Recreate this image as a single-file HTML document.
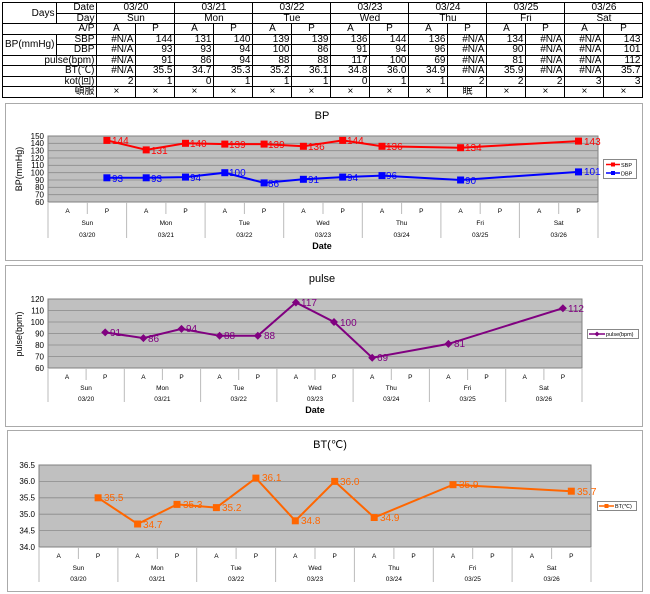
<!DOCTYPE html>
<html><head><meta charset="utf-8"><style>
body{margin:0;background:#fff;width:650px;height:594px;overflow:hidden;position:relative;font-family:"Liberation Sans","Noto Sans CJK JP",sans-serif}
table{position:absolute;left:2px;top:2px;border-collapse:collapse;table-layout:fixed;font-size:10px;line-height:9px}
td{border:1px solid #000;padding:0 2px;height:9.5px;text-align:right;white-space:nowrap;overflow:hidden}
td.c{text-align:center}
svg{position:absolute;left:0;top:0}
</style></head><body>
<table>
<colgroup><col style="width:53px"><col style="width:40px"><col span="14" style="width:39px"></colgroup>
<tr><td rowspan="2" class="c" style="text-align:right">Days</td><td>Date</td><td colspan="2" class="c">03/20</td><td colspan="2" class="c">03/21</td><td colspan="2" class="c">03/22</td><td colspan="2" class="c">03/23</td><td colspan="2" class="c">03/24</td><td colspan="2" class="c">03/25</td><td colspan="2" class="c">03/26</td></tr>
<tr><td>Day</td><td colspan="2" class="c">Sun</td><td colspan="2" class="c">Mon</td><td colspan="2" class="c">Tue</td><td colspan="2" class="c">Wed</td><td colspan="2" class="c">Thu</td><td colspan="2" class="c">Fri</td><td colspan="2" class="c">Sat</td></tr>
<tr><td colspan="2">A/P</td><td class="c">A</td><td class="c">P</td><td class="c">A</td><td class="c">P</td><td class="c">A</td><td class="c">P</td><td class="c">A</td><td class="c">P</td><td class="c">A</td><td class="c">P</td><td class="c">A</td><td class="c">P</td><td class="c">A</td><td class="c">P</td></tr>
<tr><td rowspan="2">BP(mmHg)</td><td>SBP</td><td>#N/A</td><td>144</td><td>131</td><td>140</td><td>139</td><td>139</td><td>136</td><td>144</td><td>136</td><td>#N/A</td><td>134</td><td>#N/A</td><td>#N/A</td><td>143</td></tr>
<tr><td>DBP</td><td>#N/A</td><td>93</td><td>93</td><td>94</td><td>100</td><td>86</td><td>91</td><td>94</td><td>96</td><td>#N/A</td><td>90</td><td>#N/A</td><td>#N/A</td><td>101</td></tr>
<tr><td colspan="2">pulse(bpm)</td><td>#N/A</td><td>91</td><td>86</td><td>94</td><td>88</td><td>88</td><td>117</td><td>100</td><td>69</td><td>#N/A</td><td>81</td><td>#N/A</td><td>#N/A</td><td>112</td></tr>
<tr><td colspan="2">BT(℃)</td><td>#N/A</td><td>35.5</td><td>34.7</td><td>35.3</td><td>35.2</td><td>36.1</td><td>34.8</td><td>36.0</td><td>34.9</td><td>#N/A</td><td>35.9</td><td>#N/A</td><td>#N/A</td><td>35.7</td></tr>
<tr><td colspan="2">kot(回)</td><td>2</td><td>1</td><td>0</td><td>1</td><td>1</td><td>1</td><td>0</td><td>1</td><td>1</td><td>2</td><td>2</td><td>2</td><td>3</td><td>3</td></tr>
<tr><td colspan="2">頓服</td><td class="c">×</td><td class="c">×</td><td class="c">×</td><td class="c">×</td><td class="c">×</td><td class="c">×</td><td class="c">×</td><td class="c">×</td><td class="c">×</td><td class="c">眠</td><td class="c">×</td><td class="c">×</td><td class="c">×</td><td class="c">×</td></tr>
</table>

<svg width="650" height="594" viewBox="0 0 650 594" font-family="Liberation Sans, sans-serif">
<!-- BP chart -->
<rect x="5.5" y="103.5" width="637" height="157" fill="#fff" stroke="#aaa"/>
<text x="322" y="119" font-size="11" text-anchor="middle">BP</text>
<rect x="48" y="136" width="550" height="66" fill="#c0c0c0" stroke="#808080"/>
<g stroke="#8a8a8a" stroke-width="0.8">
<line x1="48" x2="598" y1="194.7" y2="194.7"/><line x1="48" x2="598" y1="187.3" y2="187.3"/><line x1="48" x2="598" y1="180" y2="180"/><line x1="48" x2="598" y1="172.7" y2="172.7"/><line x1="48" x2="598" y1="165.3" y2="165.3"/><line x1="48" x2="598" y1="158" y2="158"/><line x1="48" x2="598" y1="150.7" y2="150.7"/><line x1="48" x2="598" y1="143.3" y2="143.3"/>
</g>
<g font-size="8" text-anchor="end">
<text x="44" y="205">60</text><text x="44" y="197.5">70</text><text x="44" y="190">80</text><text x="44" y="183">90</text><text x="44" y="175.5">100</text><text x="44" y="168">110</text><text x="44" y="161">120</text><text x="44" y="153.5">130</text><text x="44" y="146">140</text><text x="44" y="139">150</text>
</g>
<text transform="translate(22,169) rotate(-90)" font-size="9" text-anchor="middle">BP(mmHg)</text>
<g stroke="#bbb" stroke-width="1">
<line x1="48" x2="48" y1="202" y2="238"/><line x1="126.6" x2="126.6" y1="202" y2="238"/><line x1="205.1" x2="205.1" y1="202" y2="238"/><line x1="283.7" x2="283.7" y1="202" y2="238"/><line x1="362.3" x2="362.3" y1="202" y2="238"/><line x1="440.9" x2="440.9" y1="202" y2="238"/><line x1="519.4" x2="519.4" y1="202" y2="238"/><line x1="598" x2="598" y1="202" y2="238"/>
<line x1="87.3" x2="87.3" y1="202" y2="214"/><line x1="165.9" x2="165.9" y1="202" y2="214"/><line x1="244.4" x2="244.4" y1="202" y2="214"/><line x1="323" x2="323" y1="202" y2="214"/><line x1="401.6" x2="401.6" y1="202" y2="214"/><line x1="480.2" x2="480.2" y1="202" y2="214"/><line x1="558.7" x2="558.7" y1="202" y2="214"/>
</g>
<g font-size="6.5" text-anchor="middle">
<text x="67.6" y="213">A</text><text x="106.9" y="213">P</text><text x="146.2" y="213">A</text><text x="185.5" y="213">P</text><text x="224.8" y="213">A</text><text x="264.1" y="213">P</text><text x="303.4" y="213">A</text><text x="342.7" y="213">P</text><text x="382" y="213">A</text><text x="421.3" y="213">P</text><text x="460.6" y="213">A</text><text x="499.9" y="213">P</text><text x="539.2" y="213">A</text><text x="578.5" y="213">P</text>
<text x="87.3" y="225">Sun</text><text x="165.9" y="225">Mon</text><text x="244.4" y="225">Tue</text><text x="323" y="225">Wed</text><text x="401.6" y="225">Thu</text><text x="480.2" y="225">Fri</text><text x="558.7" y="225">Sat</text>
<text x="87.3" y="237">03/20</text><text x="165.9" y="237">03/21</text><text x="244.4" y="237">03/22</text><text x="323" y="237">03/23</text><text x="401.6" y="237">03/24</text><text x="480.2" y="237">03/25</text><text x="558.7" y="237">03/26</text>
</g>
<text x="322" y="249" font-size="9" font-weight="bold" text-anchor="middle">Date</text>
<polyline fill="none" stroke="#ff0000" stroke-width="2" points="106.9,140.4 146.2,149.9 185.5,143.3 224.8,144.1 264.1,144.1 303.4,146.3 342.7,140.4 382,146.3 460.6,147.7 578.5,141.1"/>
<g fill="#ff0000"><rect x="103.4" y="136.9" width="7" height="7"/><rect x="142.7" y="146.4" width="7" height="7"/><rect x="182" y="139.8" width="7" height="7"/><rect x="221.3" y="140.6" width="7" height="7"/><rect x="260.6" y="140.6" width="7" height="7"/><rect x="299.9" y="142.8" width="7" height="7"/><rect x="339.2" y="136.9" width="7" height="7"/><rect x="378.5" y="142.8" width="7" height="7"/><rect x="457.1" y="144.2" width="7" height="7"/><rect x="575" y="137.6" width="7" height="7"/></g>
<g fill="#ff0000" font-size="10"><text x="112" y="144">144</text><text x="151" y="154">131</text><text x="190" y="147">140</text><text x="229" y="148">139</text><text x="268" y="148">139</text><text x="308" y="150">136</text><text x="347" y="144">144</text><text x="386" y="150">136</text><text x="465" y="151">134</text><text x="584" y="145">143</text></g>
<polyline fill="none" stroke="#0000ff" stroke-width="2" points="106.9,177.8 146.2,177.8 185.5,177.1 224.8,172.7 264.1,182.9 303.4,179.3 342.7,177.1 382,175.6 460.6,180 578.5,171.9"/>
<g fill="#0000ff"><rect x="103.4" y="174.3" width="7" height="7"/><rect x="142.7" y="174.3" width="7" height="7"/><rect x="182" y="173.6" width="7" height="7"/><rect x="221.3" y="169.2" width="7" height="7"/><rect x="260.6" y="179.4" width="7" height="7"/><rect x="299.9" y="175.8" width="7" height="7"/><rect x="339.2" y="173.6" width="7" height="7"/><rect x="378.5" y="172.1" width="7" height="7"/><rect x="457.1" y="176.5" width="7" height="7"/><rect x="575" y="168.4" width="7" height="7"/></g>
<g fill="#0000ff" font-size="10"><text x="112" y="182">93</text><text x="151" y="182">93</text><text x="190" y="181">94</text><text x="229" y="176">100</text><text x="268" y="187">86</text><text x="308" y="183">91</text><text x="347" y="181">94</text><text x="386" y="179">96</text><text x="465" y="184">90</text><text x="584" y="175">101</text></g>
<rect x="603.5" y="159.5" width="33" height="19" fill="#fff" stroke="#888"/>
<line x1="606" x2="620" y1="164.5" y2="164.5" stroke="#f00" stroke-width="1.5"/><rect x="611" y="162.5" width="4" height="4" fill="#f00"/>
<line x1="606" x2="620" y1="173" y2="173" stroke="#00f" stroke-width="1.5"/><rect x="611" y="171" width="4" height="4" fill="#00f"/>
<text x="621" y="167" font-size="5.5">SBP</text><text x="621" y="175.5" font-size="5.5">DBP</text>

<!-- pulse chart -->
<rect x="5.5" y="265.5" width="637" height="161" fill="#fff" stroke="#aaa"/>
<text x="322" y="282" font-size="11" text-anchor="middle">pulse</text>
<rect x="48" y="299" width="534" height="69" fill="#c0c0c0" stroke="#808080"/>
<g stroke="#8a8a8a" stroke-width="0.8">
<line x1="48" x2="582" y1="356.5" y2="356.5"/><line x1="48" x2="582" y1="345" y2="345"/><line x1="48" x2="582" y1="333.5" y2="333.5"/><line x1="48" x2="582" y1="322" y2="322"/><line x1="48" x2="582" y1="310.5" y2="310.5"/>
</g>
<g font-size="8" text-anchor="end">
<text x="44" y="371">60</text><text x="44" y="359.5">70</text><text x="44" y="348">80</text><text x="44" y="336.5">90</text><text x="44" y="325">100</text><text x="44" y="313.5">110</text><text x="44" y="302">120</text>
</g>
<text transform="translate(22,334) rotate(-90)" font-size="9" text-anchor="middle">pulse(bpm)</text>
<g stroke="#bbb">
<line x1="48" x2="48" y1="368" y2="402"/><line x1="124.3" x2="124.3" y1="368" y2="402"/><line x1="200.6" x2="200.6" y1="368" y2="402"/><line x1="276.9" x2="276.9" y1="368" y2="402"/><line x1="353.1" x2="353.1" y1="368" y2="402"/><line x1="429.4" x2="429.4" y1="368" y2="402"/><line x1="505.7" x2="505.7" y1="368" y2="402"/><line x1="582" x2="582" y1="368" y2="402"/>
<line x1="86.1" x2="86.1" y1="368" y2="380"/><line x1="162.4" x2="162.4" y1="368" y2="380"/><line x1="238.7" x2="238.7" y1="368" y2="380"/><line x1="315" x2="315" y1="368" y2="380"/><line x1="391.3" x2="391.3" y1="368" y2="380"/><line x1="467.6" x2="467.6" y1="368" y2="380"/><line x1="543.9" x2="543.9" y1="368" y2="380"/>
</g>
<g font-size="6.5" text-anchor="middle">
<text x="67.1" y="379">A</text><text x="105.2" y="379">P</text><text x="143.4" y="379">A</text><text x="181.5" y="379">P</text><text x="219.6" y="379">A</text><text x="257.8" y="379">P</text><text x="295.9" y="379">A</text><text x="334" y="379">P</text><text x="372.2" y="379">A</text><text x="410.3" y="379">P</text><text x="448.4" y="379">A</text><text x="486.6" y="379">P</text><text x="524.7" y="379">A</text><text x="562.9" y="379">P</text>
<text x="86.1" y="390">Sun</text><text x="162.4" y="390">Mon</text><text x="238.7" y="390">Tue</text><text x="315" y="390">Wed</text><text x="391.3" y="390">Thu</text><text x="467.6" y="390">Fri</text><text x="543.9" y="390">Sat</text>
<text x="86.1" y="401">03/20</text><text x="162.4" y="401">03/21</text><text x="238.7" y="401">03/22</text><text x="315" y="401">03/23</text><text x="391.3" y="401">03/24</text><text x="467.6" y="401">03/25</text><text x="543.9" y="401">03/26</text>
</g>
<text x="315" y="413" font-size="9" font-weight="bold" text-anchor="middle">Date</text>
<polyline fill="none" stroke="#800080" stroke-width="2" points="105.2,332.4 143.4,338.1 181.5,328.9 219.6,335.8 257.8,335.8 295.9,302.5 334,322 372.2,357.7 448.4,343.9 562.9,308.2"/>
<g fill="#800080">
<path d="M105.2 328.4l4 4-4 4-4-4z"/><path d="M143.4 334.1l4 4-4 4-4-4z"/><path d="M181.5 324.9l4 4-4 4-4-4z"/><path d="M219.6 331.8l4 4-4 4-4-4z"/><path d="M257.8 331.8l4 4-4 4-4-4z"/><path d="M295.9 298.5l4 4-4 4-4-4z"/><path d="M334 318l4 4-4 4-4-4z"/><path d="M372.2 353.7l4 4-4 4-4-4z"/><path d="M448.4 339.9l4 4-4 4-4-4z"/><path d="M562.9 304.2l4 4-4 4-4-4z"/>
</g>
<g fill="#800080" font-size="10"><text x="110" y="336">91</text><text x="148" y="342">86</text><text x="186" y="332">94</text><text x="224" y="339">88</text><text x="264" y="339">88</text><text x="301" y="306">117</text><text x="340" y="326">100</text><text x="377" y="361">69</text><text x="454" y="347">81</text><text x="568" y="312">112</text></g>
<rect x="587.5" y="329.5" width="51" height="9" fill="#fff" stroke="#888"/>
<line x1="589" x2="605" y1="334" y2="334" stroke="#800080" stroke-width="1.5"/><path d="M597 331.5l2.5 2.5-2.5 2.5-2.5-2.5z" fill="#800080"/>
<text x="606" y="336" font-size="5.5">pulse(bpm)</text>

<!-- BT chart -->
<rect x="7.5" y="430.5" width="635" height="161" fill="#fff" stroke="#aaa"/>
<text x="330" y="448" font-size="11" text-anchor="middle">BT(℃)</text>
<rect x="39" y="465" width="552" height="82" fill="#c0c0c0" stroke="#808080"/>
<g stroke="#8a8a8a" stroke-width="0.8">
<line x1="39" x2="591" y1="530.6" y2="530.6"/><line x1="39" x2="591" y1="514.2" y2="514.2"/><line x1="39" x2="591" y1="497.8" y2="497.8"/><line x1="39" x2="591" y1="481.4" y2="481.4"/>
</g>
<g font-size="8" text-anchor="end">
<text x="35" y="550">34.0</text><text x="35" y="533.5">34.5</text><text x="35" y="517">35.0</text><text x="35" y="500.5">35.5</text><text x="35" y="484">36.0</text><text x="35" y="468">36.5</text>
</g>
<g stroke="#bbb">
<line x1="39" x2="39" y1="547" y2="582"/><line x1="117.9" x2="117.9" y1="547" y2="582"/><line x1="196.7" x2="196.7" y1="547" y2="582"/><line x1="275.6" x2="275.6" y1="547" y2="582"/><line x1="354.4" x2="354.4" y1="547" y2="582"/><line x1="433.3" x2="433.3" y1="547" y2="582"/><line x1="512.1" x2="512.1" y1="547" y2="582"/><line x1="591" x2="591" y1="547" y2="582"/>
<line x1="78.4" x2="78.4" y1="547" y2="559"/><line x1="157.3" x2="157.3" y1="547" y2="559"/><line x1="236.1" x2="236.1" y1="547" y2="559"/><line x1="315" x2="315" y1="547" y2="559"/><line x1="393.9" x2="393.9" y1="547" y2="559"/><line x1="472.7" x2="472.7" y1="547" y2="559"/><line x1="551.6" x2="551.6" y1="547" y2="559"/>
</g>
<g font-size="6.5" text-anchor="middle">
<text x="58.7" y="558">A</text><text x="98.1" y="558">P</text><text x="137.6" y="558">A</text><text x="177" y="558">P</text><text x="216.4" y="558">A</text><text x="255.9" y="558">P</text><text x="295.3" y="558">A</text><text x="334.7" y="558">P</text><text x="374.2" y="558">A</text><text x="413.6" y="558">P</text><text x="453" y="558">A</text><text x="492.4" y="558">P</text><text x="531.9" y="558">A</text><text x="571.3" y="558">P</text>
<text x="78.4" y="570">Sun</text><text x="157.3" y="570">Mon</text><text x="236.1" y="570">Tue</text><text x="315" y="570">Wed</text><text x="393.9" y="570">Thu</text><text x="472.7" y="570">Fri</text><text x="551.6" y="570">Sat</text>
<text x="78.4" y="581">03/20</text><text x="157.3" y="581">03/21</text><text x="236.1" y="581">03/22</text><text x="315" y="581">03/23</text><text x="393.9" y="581">03/24</text><text x="472.7" y="581">03/25</text><text x="551.6" y="581">03/26</text>
</g>
<polyline fill="none" stroke="#ff6600" stroke-width="2" points="98.1,497.8 137.6,524 177,504.4 216.4,507.6 255.9,478.1 295.3,520.8 334.7,481.4 374.2,517.5 453,484.7 571.3,491.2"/>
<g fill="#ff6600"><rect x="94.6" y="494.3" width="7" height="7"/><rect x="134.1" y="520.5" width="7" height="7"/><rect x="173.5" y="500.9" width="7" height="7"/><rect x="212.9" y="504.1" width="7" height="7"/><rect x="252.4" y="474.6" width="7" height="7"/><rect x="291.8" y="517.3" width="7" height="7"/><rect x="331.2" y="477.9" width="7" height="7"/><rect x="370.7" y="514" width="7" height="7"/><rect x="449.5" y="481.2" width="7" height="7"/><rect x="567.8" y="487.7" width="7" height="7"/></g>
<g fill="#ff6600" font-size="10"><text x="104" y="501">35.5</text><text x="143" y="528">34.7</text><text x="183" y="508">35.3</text><text x="222" y="511">35.2</text><text x="262" y="481">36.1</text><text x="301" y="524">34.8</text><text x="340" y="485">36.0</text><text x="380" y="521">34.9</text><text x="459" y="488">35.9</text><text x="577" y="495">35.7</text></g>
<rect x="597.5" y="501.5" width="39" height="9" fill="#fff" stroke="#888"/>
<line x1="599" x2="614" y1="506" y2="506" stroke="#ff6600" stroke-width="1.5"/><rect x="604.5" y="504" width="4" height="4" fill="#ff6600"/>
<text x="615" y="508" font-size="5.5">BT(℃)</text>
</svg>
</body></html>
